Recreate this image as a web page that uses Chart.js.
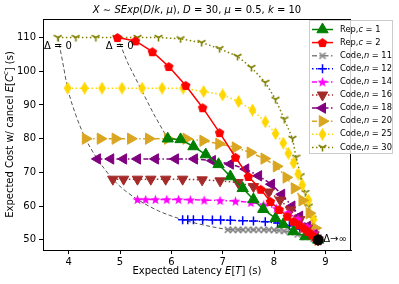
<!DOCTYPE html>
<html>
<head>
<meta charset="utf-8">
<script src="https://cdn.jsdelivr.net/npm/chart.js@4.4.0/dist/chart.umd.min.js"></script>
<style>
  body { margin: 0; background: #fff; }
  canvas { display: block; }
</style>
</head>
<body>
<canvas id="grafico" width="399" height="284"></canvas>
<script>
// dati (latenza attesa vs costo atteso)
const xTicks = [4, 5, 6, 7, 8, 9];
const yTicks = [50, 60, 70, 80, 90, 100, 110];

const rep1X = [5.93, 6.18, 6.43, 6.67, 6.92, 7.15, 7.39, 7.6, 7.79, 8.03, 8.18, 8.38, 8.61, 8.86];
const rep1Y = [80, 79.8, 77.7, 75.3, 72.4, 68.8, 65.3, 62, 59.1, 56.4, 54.6, 52.5, 51, 50];

const rep2X = [4.95, 5.3, 5.63, 5.95, 6.28, 6.61, 6.94, 7.25, 7.5, 7.74, 7.93, 8.1, 8.26, 8.38, 8.48, 8.58, 8.66, 8.74, 8.8, 8.86];
const rep2Y = [110, 109, 105.8, 101.4, 95.8, 89.2, 81.8, 74.5, 68.8, 65, 61.4, 59, 57, 55.5, 54.5, 53.5, 52.5, 51.5, 50.8, 50];

const n11X = [7.1, 7.2, 7.3, 7.4, 7.5, 7.6, 7.7, 7.8, 7.9, 8.0, 8.1, 8.2, 8.32, 8.46, 8.61, 8.77, 8.86];
const n11Y = [53, 53, 53, 53, 53, 53, 53, 53, 53, 52.9, 52.8, 52.6, 52.2, 51.6, 50.9, 50.3, 50];

const n12X = [6.22, 6.32, 6.43, 6.61, 6.8, 6.96, 7.15, 7.39, 7.6, 7.83, 8.07, 8.3, 8.5, 8.7, 8.86];
const n12Y = [56, 56, 56, 56, 55.9, 55.9, 55.8, 55.7, 55.6, 55.4, 55, 54.3, 53.2, 51.8, 50];

const n14X = [5.34, 5.5, 5.69, 5.91, 6.14, 6.37, 6.64, 6.95, 7.25, 7.55, 7.8, 8.05, 8.27, 8.47, 8.65, 8.78, 8.86];
const n14Y = [62, 62, 62, 62, 62, 61.9, 61.8, 61.7, 61.5, 61.1, 60.4, 59.4, 58, 56.2, 54, 52, 50];

const n16X = [4.86, 5.07, 5.34, 5.6, 5.89, 6.22, 6.6, 6.95, 7.3, 7.6, 7.9, 8.12, 8.32, 8.5, 8.65, 8.78, 8.86];
const n16Y = [68, 68, 68, 68, 68, 68, 67.8, 67.5, 67, 65.8, 64.2, 61.8, 58.9, 56, 53.5, 51.5, 50];

const n18X = [4.56, 4.82, 5.07, 5.34, 5.69, 6.08, 6.45, 6.8, 7.15, 7.45, 7.7, 7.95, 8.15, 8.35, 8.5, 8.65, 8.78, 8.86];
const n18Y = [74, 74, 74, 74, 74, 74, 74, 73.5, 72.5, 71, 69, 66.5, 63.5, 60, 57, 54, 51.5, 50];

const n20X = [4.33, 4.62, 4.91, 5.21, 5.56, 5.93, 6.29, 6.62, 6.93, 7.25, 7.54, 7.81, 8.05, 8.24, 8.4, 8.55, 8.69, 8.8, 8.86];
const n20Y = [80, 80, 80, 80, 80, 80, 80, 79.4, 78.5, 77.4, 75.9, 74.1, 71.8, 68.5, 65.3, 61.7, 57.9, 53.5, 50];

const n25X = [3.98, 4.31, 4.65, 5.04, 5.43, 5.82, 6.23, 6.63, 7.0, 7.31, 7.58, 7.83, 8.03, 8.18, 8.28, 8.38, 8.47, 8.55, 8.67, 8.77, 8.86];
const n25Y = [95, 95, 95, 95, 95, 95, 95, 94, 93, 91, 88.5, 85, 81.5, 78.7, 75.7, 72.8, 69.5, 66.3, 61.8, 56, 50];

const n30X = [3.79, 4.14, 4.53, 4.93, 5.34, 5.75, 6.18, 6.59, 6.94, 7.29, 7.56, 7.83, 8.03, 8.2, 8.36, 8.43, 8.52, 8.61, 8.68, 8.75, 8.81, 8.86];
const n30Y = [110, 110, 110, 110, 110, 110, 109.6, 108.5, 106.7, 104.4, 101.1, 96.7, 91.7, 85.8, 80.1, 74.5, 69, 64, 60, 56.4, 53, 50];

// curve tratteggiate Delta = 0
const dz1X = [3.79, 3.88, 3.98, 4.14, 4.33, 4.56, 4.86, 5.1, 5.34, 5.75, 6.22, 6.6, 7.1];
const dz1Y = [110, 103, 95, 87, 80, 74, 68, 64.6, 62, 58.6, 56, 54.5, 53];
const dz2X = [4.95, 5.15, 5.4, 5.65, 5.93];
const dz2Y = [110, 102.5, 95, 87.5, 80];

// punto finale Delta -> infinito
const endX = [8.86];
const endY = [50];

function pts(xs, ys) {
  return xs.map((x, i) => ({ x: x, y: ys[i] }));
}

// MARKER PERSONALIZZATI (pentagono, stella, diamante sottile, tri_down, x)
function makeMarker(kind, color, size) {
  const c = document.createElement('canvas');
  c.width = size; c.height = size;
  const g = c.getContext('2d');
  const m = size / 2;
  g.fillStyle = color;
  g.strokeStyle = color;
  g.lineWidth = 1.3;
  if (kind == 'pentagon') {
    g.beginPath();
    for (let i = 0; i < 5; i++) {
      const a = -Math.PI / 2 + i * 2 * Math.PI / 5;
      const px = m + Math.cos(a) * (m - 0.5), py = m + 0.4 + Math.sin(a) * (m - 0.5);
      if (i == 0) g.moveTo(px, py); else g.lineTo(px, py);
    }
    g.closePath(); g.fill();
  } else if (kind == 'star') {
    g.beginPath();
    for (let i = 0; i < 10; i++) {
      const a = -Math.PI / 2 + i * Math.PI / 5;
      const r = i % 2 == 0 ? m - 0.3 : (m - 0.3) * 0.42;
      const px = m + Math.cos(a) * r, py = m + 0.5 + Math.sin(a) * r;
      if (i == 0) g.moveTo(px, py); else g.lineTo(px, py);
    }
    g.closePath(); g.fill();
  } else if (kind == 'thin') {
    g.beginPath();
    g.moveTo(m, 0); g.lineTo(m + m * 0.6, m); g.lineTo(m, size); g.lineTo(m - m * 0.6, m);
    g.closePath(); g.fill();
  } else if (kind == 'tri') {
    g.lineWidth = 1.6;
    g.beginPath();
    g.moveTo(m, m); g.lineTo(m, size - 0.5);
    g.moveTo(m, m); g.lineTo(m - m * 0.87, m - m * 0.5);
    g.moveTo(m, m); g.lineTo(m + m * 0.87, m - m * 0.5);
    g.stroke();
  } else if (kind == 'x') {
    g.lineWidth = 1.7;
    g.beginPath();
    g.moveTo(1, 1); g.lineTo(size - 1, size - 1);
    g.moveTo(size - 1, 1); g.lineTo(1, size - 1);
    g.stroke();
  }
  return c;
}

const dashDot = [5, 2.5, 1.5, 2.5];
const dotted = [1.5, 2.5];

function serie(label, data, color, style, opts) {
  return Object.assign({
    label: label,
    data: data,
    showLine: true,
    borderColor: color,
    backgroundColor: color,
    pointBorderColor: color,
    pointBackgroundColor: color,
    borderWidth: 1.5,
    borderDash: style,
    pointRadius: 5,
    pointBorderWidth: 1,
    pointHoverRadius: 5,
  }, opts);
}

const datasets = [
  serie('Rep,|c| = 1', pts(rep1X, rep1Y), '#008000', [], { pointStyle: 'triangle', pointRadius: 6.5, order: 2 }),
  serie('Rep,|c| = 2', pts(rep2X, rep2Y), '#ff0000', [], { pointStyle: makeMarker('pentagon', '#ff0000', 11), order: 1 }),
  serie('Code,|n| = 11', pts(n11X, n11Y), '#808080', dashDot, { pointStyle: makeMarker('x', '#808080', 8), order: 3 }),
  serie('Code,|n| = 12', pts(n12X, n12Y), '#0000ff', dotted, { pointStyle: 'cross', pointRadius: 4.5, pointBorderWidth: 1.5, order: 3 }),
  serie('Code,|n| = 14', pts(n14X, n14Y), '#ff00ff', dashDot, { pointStyle: makeMarker('star', '#ff00ff', 11), order: 3 }),
  serie('Code,|n| = 16', pts(n16X, n16Y), '#a52a2a', dotted, { pointStyle: 'triangle', rotation: 180, pointRadius: 6, order: 3 }),
  serie('Code,|n| = 18', pts(n18X, n18Y), '#800080', dashDot, { pointStyle: 'triangle', rotation: -90, pointRadius: 6, order: 3 }),
  serie('Code,|n| = 20', pts(n20X, n20Y), '#daa520', dashDot, { pointStyle: 'triangle', rotation: 90, pointRadius: 6.5, order: 3 }),
  serie('Code,|n| = 25', pts(n25X, n25Y), '#ffd700', dotted, { pointStyle: makeMarker('thin', '#ffd700', 13), order: 3 }),
  serie('Code,|n| = 30', pts(n30X, n30Y), '#808000', dotted, { pointStyle: makeMarker('tri', '#808000', 9), order: 3 }),
  { data: pts(dz1X, dz1Y), showLine: true, borderColor: '#555555', borderDash: [4, 2.5], borderWidth: 1, pointRadius: 0, order: 4, cubicInterpolationMode: 'monotone' },
  { data: pts(dz2X, dz2Y), showLine: true, borderColor: '#555555', borderDash: [4, 2.5], borderWidth: 1, pointRadius: 0, order: 4 },
  { data: pts(endX, endY), showLine: false, pointStyle: 'circle', pointRadius: 5, backgroundColor: '#000', borderColor: '#000', pointBackgroundColor: '#000', pointBorderColor: '#000', order: 0 },
];

// testo misto normale/corsivo stile mathtext
const FONT = '"DejaVu Sans", sans-serif';
function parti(str) {
  // '|' separa normale e corsivo alternati
  return str.split('|').map((t, i) => ({ t: t, it: i % 2 == 1 }));
}
function larghezza(ctx, parts, size) {
  let w = 0;
  parts.forEach(p => {
    const s = p.sup ? size * 0.7 : size;
    ctx.font = (p.it ? 'italic ' : '') + s + 'px ' + FONT;
    w += ctx.measureText(p.t).width;
  });
  return w;
}
function scriviMisto(ctx, parts, x, y, size, align) {
  let w = larghezza(ctx, parts, size);
  let cx = align == 'center' ? x - w / 2 : (align == 'right' ? x - w : x);
  ctx.textBaseline = 'middle';
  ctx.textAlign = 'left';
  parts.forEach(p => {
    const s = p.sup ? size * 0.7 : size;
    ctx.font = (p.it ? 'italic ' : '') + s + 'px ' + FONT;
    ctx.fillText(p.t, cx, p.sup ? y - size * 0.35 : y);
    cx += ctx.measureText(p.t).width;
  });
}

const testiPlugin = {
  id: 'testi',
  afterDraw(chart) {
    const ctx = chart.ctx;
    const a = chart.chartArea;
    const xs = chart.scales.x, ys = chart.scales.y;
    ctx.save();
    ctx.fillStyle = '#000';

    // bordo completo degli assi
    ctx.strokeStyle = '#000';
    ctx.lineWidth = 1;
    ctx.strokeRect(a.left + 0.5, a.top + 0.5, a.right - a.left - 1, a.bottom - a.top);

    // titolo
    scriviMisto(ctx, [
      { t: 'X', it: true }, { t: ' ∼ ' }, { t: 'SExp', it: true }, { t: '(' }, { t: 'D', it: true }, { t: '/' },
      { t: 'k', it: true }, { t: ', ' }, { t: 'μ', it: true }, { t: '), ' }, { t: 'D', it: true }, { t: ' = 30, ' },
      { t: 'μ', it: true }, { t: ' = 0.5, ' }, { t: 'k', it: true }, { t: ' = 10' }
    ], (a.left + a.right) / 2, 10, 10, 'center');

    // etichette assi
    scriviMisto(ctx, [{ t: 'Expected Latency ' }, { t: 'E', it: true }, { t: '[' }, { t: 'T', it: true }, { t: ']' }, { t: ' (s)' }],
      (a.left + a.right) / 2, 271, 10, 'center');
    ctx.save();
    ctx.translate(10, (a.top + a.bottom) / 2);
    ctx.rotate(-Math.PI / 2);
    scriviMisto(ctx, [{ t: 'Expected Cost w/ cancel ' }, { t: 'E', it: true }, { t: '[' }, { t: 'C', it: true },
      { t: 'c', it: true, sup: true }, { t: ']' }, { t: ' (s)' }], 0, 0, 10, 'center');
    ctx.restore();

    // annotazioni Delta
    scriviMisto(ctx, [{ t: 'Δ = 0' }], xs.getPixelForValue(3.52), ys.getPixelForValue(107.3), 10, 'left');
    scriviMisto(ctx, [{ t: 'Δ = 0' }], xs.getPixelForValue(4.72), ys.getPixelForValue(107.3), 10, 'left');
    scriviMisto(ctx, [{ t: 'Δ→∞' }], xs.getPixelForValue(8.96), ys.getPixelForValue(50), 10, 'left');

    // legenda
    const lx = 309, ly = 20, lw = 83, rowH = 13.1;
    ctx.fillStyle = 'rgba(255,255,255,0.8)';
    ctx.fillRect(lx, ly, lw, 133);
    ctx.strokeStyle = '#cccccc';
    ctx.lineWidth = 1;
    ctx.strokeRect(lx + 0.5, ly + 0.5, lw, 133);
    let riga = 0;
    chart.data.datasets.forEach(ds => {
      if (!ds.label) return;
      const y = ly + 9.5 + riga * rowH;
      ctx.save();
      ctx.strokeStyle = ds.borderColor;
      ctx.lineWidth = 1.5;
      ctx.setLineDash(ds.borderDash);
      ctx.beginPath();
      ctx.moveTo(312, y); ctx.lineTo(333, y);
      ctx.stroke();
      ctx.setLineDash([]);
      ctx.fillStyle = ds.pointBackgroundColor;
      ctx.strokeStyle = ds.pointBorderColor;
      ctx.lineWidth = ds.pointBorderWidth;
      Chart.helpers.drawPoint(ctx, {
        pointStyle: ds.pointStyle, radius: ds.pointRadius, rotation: ds.rotation || 0, borderWidth: ds.pointBorderWidth
      }, 322.5, y);
      ctx.restore();
      ctx.fillStyle = '#000';
      scriviMisto(ctx, parti(ds.label), 340, y, 8.3, 'left');
      riga++;
    });
    ctx.restore();
  }
};

let ctx = document.getElementById('grafico');
const myChart = new Chart(ctx, {
  type: 'scatter',
  data: { datasets: datasets },
  options: {
    responsive: false,
    animation: false,
    devicePixelRatio: 1,
    layout: { padding: { top: 19, right: 48, left: 0, bottom: 0 } },
    plugins: { legend: { display: false }, tooltip: { enabled: false }, title: { display: false } },
    scales: {
      x: {
        type: 'linear', min: 3.5, max: 9.5,
        afterBuildTicks: (s) => { s.ticks = xTicks.map(v => ({ value: v })); },
        afterFit: (s) => { s.height = 34; },
        grid: { display: true, drawOnChartArea: false, drawTicks: true, tickLength: 4, color: '#000' },
        border: { display: true, color: '#000', width: 1 },
        ticks: { color: '#000', padding: 2, font: { size: 10, family: FONT }, maxRotation: 0, autoSkip: false }
      },
      y: {
        type: 'linear', min: 47, max: 115.5,
        afterBuildTicks: (s) => { s.ticks = yTicks.map(v => ({ value: v })); },
        afterFit: (s) => { s.width = 43; },
        grid: { display: true, drawOnChartArea: false, drawTicks: true, tickLength: 4, color: '#000' },
        border: { display: true, color: '#000', width: 1 },
        ticks: { color: '#000', padding: 3, font: { size: 10, family: FONT }, autoSkip: false }
      }
    }
  },
  plugins: [testiPlugin]
});
</script>
</body>
</html>
